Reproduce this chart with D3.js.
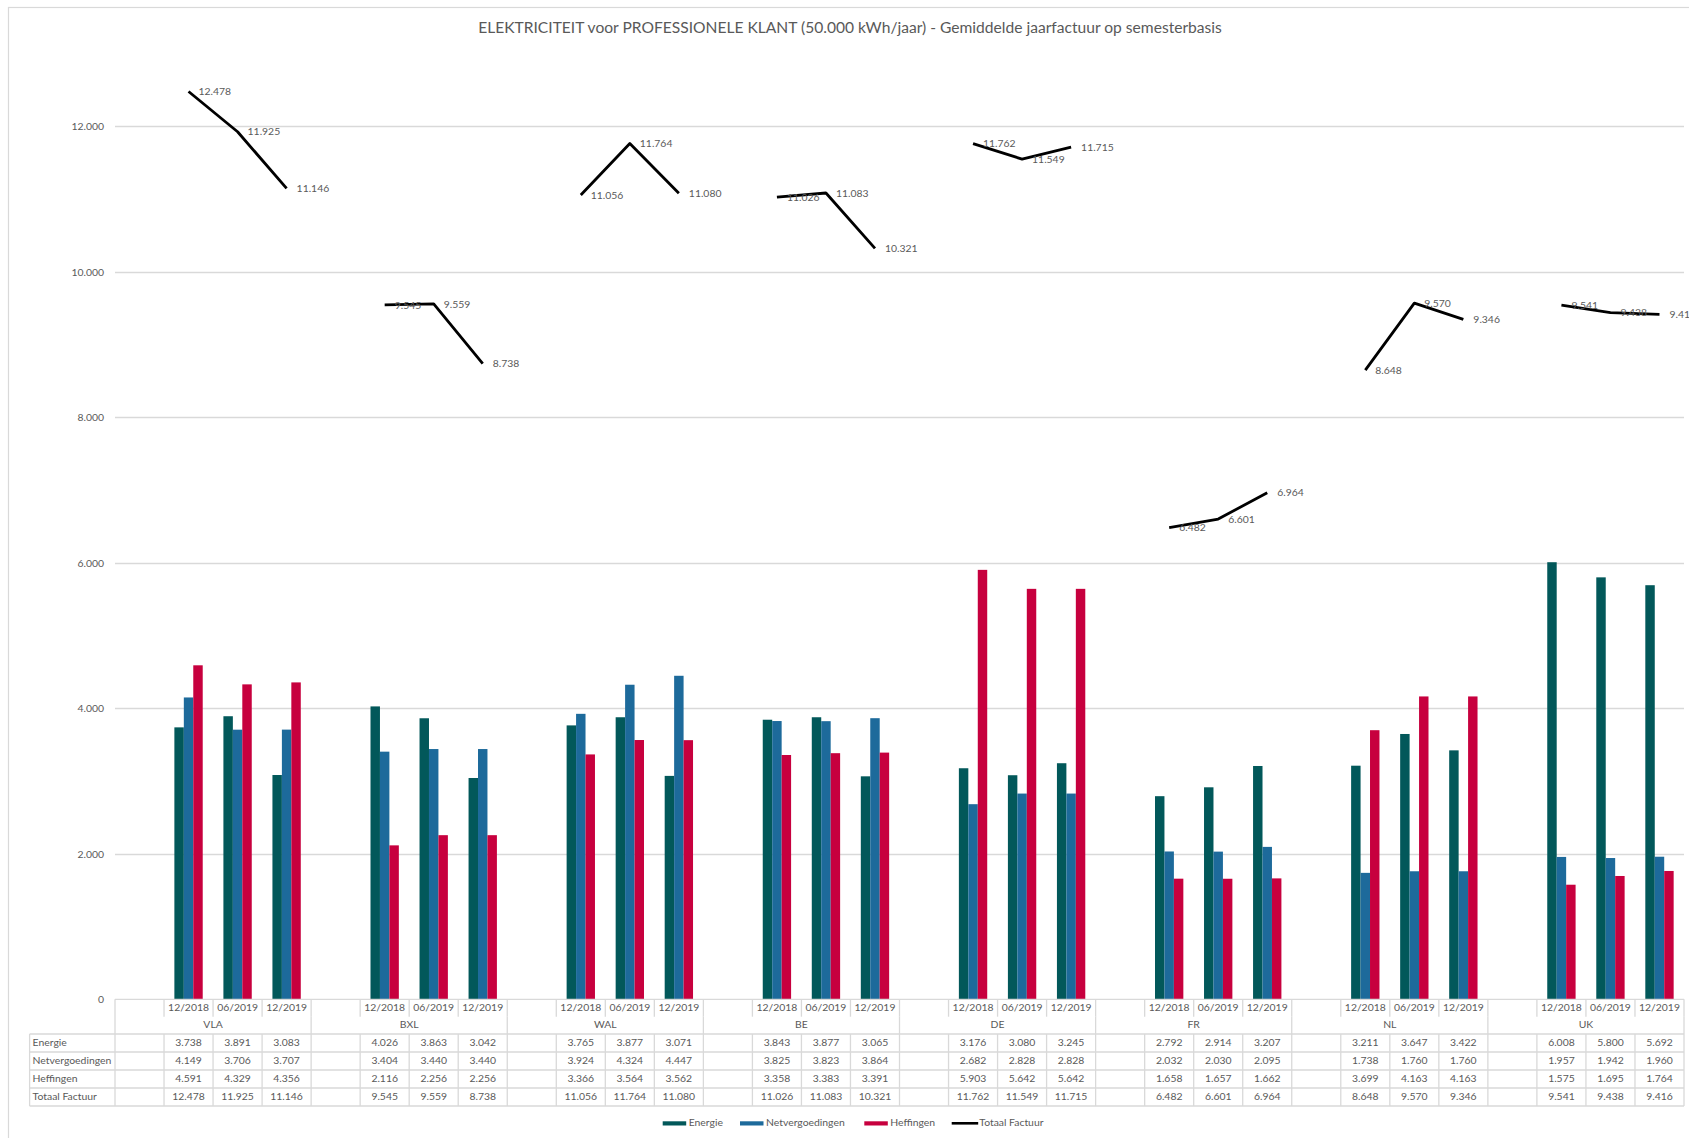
<!DOCTYPE html>
<html>
<head>
<meta charset="utf-8">
<script src="https://cdn.jsdelivr.net/npm/d3@7"></script>
<style>
  html, body { margin: 0; padding: 0; background: #ffffff; }
  svg { display: block; font-family: Lato, "Open Sans", sans-serif; }
</style>
</head>
<body>
<svg id="chart" width="1689" height="1138"></svg>
<script>
// Regions and invoice periods
const regions = ["VLA", "BXL", "WAL", "BE", "DE", "FR", "NL", "UK"];
const periods = ["12/2018", "06/2019", "12/2019"];

// Average yearly invoice components (EUR), per region, per period
const energie = [3738, 3891, 3083, 4026, 3863, 3042, 3765, 3877, 3071, 3843, 3877, 3065,
                 3176, 3080, 3245, 2792, 2914, 3207, 3211, 3647, 3422, 6008, 5800, 5692];
const netvergoedingen = [4149, 3706, 3707, 3404, 3440, 3440, 3924, 4324, 4447, 3825, 3823, 3864,
                         2682, 2828, 2828, 2032, 2030, 2095, 1738, 1760, 1760, 1957, 1942, 1960];
const heffingen = [4591, 4329, 4356, 2116, 2256, 2256, 3366, 3564, 3562, 3358, 3383, 3391,
                   5903, 5642, 5642, 1658, 1657, 1662, 3699, 4163, 4163, 1575, 1695, 1764];
const totaalFactuur = [12478, 11925, 11146, 9545, 9559, 8738, 11056, 11764, 11080, 11026, 11083, 10321,
                       11762, 11549, 11715, 6482, 6601, 6964, 8648, 9570, 9346, 9541, 9438, 9416];

const barSeries = [
  { name: "Energie", values: energie, color: "#02585a" },
  { name: "Netvergoedingen", values: netvergoedingen, color: "#1d6a9b" },
  { name: "Heffingen", values: heffingen, color: "#c7003e" }
];
const lineSeries = { name: "Totaal Factuur", values: totaalFactuur, color: "#000000" };

const yTicks = [0, 2000, 4000, 6000, 8000, 10000, 12000];
const title = "ELEKTRICITEIT voor PROFESSIONELE KLANT (50.000 kWh/jaar) - Gemiddelde jaarfactuur op semesterbasis";

// Belgian number format: dot as thousands separator
const nl = d3.formatLocale({ decimal: ",", thousands: ".", grouping: [3], currency: ["€", ""] });
const fmt = nl.format(",d");

const svg = d3.select("#chart");
const W = 1689, H = 1138;
const textColor = "#595959";
const gridColor = "#d9d9d9";
const fs = 10.4;

svg.append("rect").attr("width", W).attr("height", H).attr("fill", "#fff");
// chart frame (only the left and top edges fall inside the page)
svg.append("rect").attr("x", 8.5).attr("y", 7.5).attr("width", W + 20).attr("height", H + 20)
  .attr("fill", "none").attr("stroke", gridColor).attr("stroke-width", 1.2);

svg.append("text").attr("x", 850).attr("y", 29).attr("text-anchor", "middle")
  .attr("dominant-baseline", "middle").attr("fill", textColor).attr("font-size", 15.6)
  .text(title);

// Category slots: every region gets an empty leading slot followed by the three periods
const slots = [];
regions.forEach((r, ri) => {
  slots.push({ key: r + "|gap", region: r, label: "", idx: -1 });
  periods.forEach((p, pi) => slots.push({ key: r + "|" + p, region: r, label: p, idx: ri * 3 + pi }));
});

const plotLeft = 115, plotRight = 1684;
const x = d3.scaleBand().domain(slots.map(d => d.key)).range([plotLeft, plotRight]).padding(0);
const y = d3.scaleLinear().domain([0, 13000]).range([999.3, 999.3 - 13000 * 0.07275]);

// gridlines
svg.append("g").selectAll("line").data(yTicks.filter(t => t > 0)).join("line")
  .attr("x1", plotLeft).attr("x2", plotRight)
  .attr("y1", d => Math.round(y(d)) + 0.5).attr("y2", d => Math.round(y(d)) + 0.5)
  .attr("stroke", gridColor).attr("stroke-width", 1.3);

// y axis labels
const yAxis = svg.append("g").attr("transform", `translate(${plotLeft},0)`)
  .call(d3.axisLeft(y).tickValues(yTicks).tickSize(0).tickPadding(11).tickFormat(fmt));
yAxis.select(".domain").remove();
yAxis.selectAll("text").attr("fill", textColor).attr("font-size", fs).attr("font-family", "Lato, sans-serif");

// clustered bars
const dataSlots = slots.filter(s => s.idx >= 0);
const groupW = x.bandwidth() * 0.578;
const xs = d3.scaleBand().domain(barSeries.map(s => s.name)).range([0, groupW]).padding(0);

const barG = svg.append("g");
barSeries.forEach(s => {
  barG.append("g").selectAll("rect").data(dataSlots).join("rect")
    .attr("x", d => x(d.key) + (x.bandwidth() - groupW) / 2 + xs(s.name))
    .attr("width", xs.bandwidth())
    .attr("y", d => y(s.values[d.idx]))
    .attr("height", d => y(0) - y(s.values[d.idx]))
    .attr("fill", s.color);
});

// total invoice lines, one segment per region
const line = d3.line().x(d => x(d.key) + x.bandwidth() / 2).y(d => y(lineSeries.values[d.idx]));
regions.forEach(r => {
  const pts = dataSlots.filter(d => d.region === r);
  svg.append("path").datum(pts).attr("d", line)
    .attr("fill", "none").attr("stroke", lineSeries.color).attr("stroke-width", 2.8)
    .attr("stroke-linejoin", "round").attr("stroke-linecap", "butt");
});
svg.append("g").selectAll("text").data(dataSlots).join("text")
  .attr("x", d => x(d.key) + x.bandwidth() / 2 + 10)
  .attr("y", d => y(lineSeries.values[d.idx]) + 1)
  .attr("dominant-baseline", "middle").attr("fill", textColor).attr("font-size", fs)
  .text(d => fmt(lineSeries.values[d.idx]));

// data table under the plot
const tbl = svg.append("g");
const rowTop = [999.3, 1016.7, 1034, 1052, 1070, 1088, 1106];
const tableLeft = 29.6;
const rows = [
  { name: "Energie", values: energie },
  { name: "Netvergoedingen", values: netvergoedingen },
  { name: "Heffingen", values: heffingen },
  { name: "Totaal Factuur", values: totaalFactuur }
];
const hl = (x1, x2, yy) => tbl.append("line").attr("x1", x1).attr("x2", x2).attr("y1", yy).attr("y2", yy)
  .attr("stroke", gridColor).attr("stroke-width", 1.3);
const vl = (xx, y1, y2) => tbl.append("line").attr("x1", xx).attr("x2", xx).attr("y1", y1).attr("y2", y2)
  .attr("stroke", gridColor).attr("stroke-width", 1.3);

hl(plotLeft, plotRight, rowTop[0]);
for (let i = 2; i < rowTop.length; i++) hl(tableLeft, plotRight, rowTop[i]);
vl(tableLeft, rowTop[2], rowTop[6]);
vl(plotLeft, rowTop[0], rowTop[6]);
slots.forEach((s, i) => {
  const xr = x(s.key) + x.bandwidth();
  vl(xr, rowTop[0], rowTop[1]);
  vl(xr, rowTop[2], rowTop[6]);
});
regions.forEach(r => {
  const xr = x(r + "|" + periods[2]) + x.bandwidth();
  vl(xr, rowTop[1], rowTop[2]);
});

// period labels
tbl.selectAll("text.period").data(dataSlots).join("text").attr("class", "period")
  .attr("x", d => x(d.key) + x.bandwidth() / 2).attr("y", (rowTop[0] + rowTop[1]) / 2 + 0.5)
  .attr("text-anchor", "middle").attr("dominant-baseline", "middle")
  .attr("fill", textColor).attr("font-size", fs).text(d => d.label);
// region labels
tbl.selectAll("text.region").data(regions).join("text").attr("class", "region")
  .attr("x", r => (x(r + "|gap") + x(r + "|" + periods[2]) + x.bandwidth()) / 2)
  .attr("y", (rowTop[1] + rowTop[2]) / 2 + 0.5)
  .attr("text-anchor", "middle").attr("dominant-baseline", "middle")
  .attr("fill", textColor).attr("font-size", fs).text(r => r);
// rows
rows.forEach((row, ri) => {
  const cy = (rowTop[ri + 2] + rowTop[ri + 3]) / 2 + 0.5;
  tbl.append("text").attr("x", tableLeft + 3).attr("y", cy).attr("dominant-baseline", "middle")
    .attr("fill", textColor).attr("font-size", fs).text(row.name);
  tbl.append("g").selectAll("text").data(dataSlots).join("text")
    .attr("x", d => x(d.key) + x.bandwidth() / 2).attr("y", cy)
    .attr("text-anchor", "middle").attr("dominant-baseline", "middle")
    .attr("fill", textColor).attr("font-size", fs).text(d => fmt(row.values[d.idx]));
});

// legend
const legendItems = [
  { name: "Energie", color: barSeries[0].color, type: "bar", x: 662.7 },
  { name: "Netvergoedingen", color: barSeries[1].color, type: "bar", x: 740 },
  { name: "Heffingen", color: barSeries[2].color, type: "bar", x: 864.3 },
  { name: "Totaal Factuur", color: lineSeries.color, type: "line", x: 951.7 }
];
const legY = 1123.3;
const lg = svg.append("g").selectAll("g").data(legendItems).join("g")
  .attr("transform", d => `translate(${d.x},${legY})`);
lg.filter(d => d.type === "bar").append("rect").attr("x", 0).attr("y", -2).attr("width", 23.5).attr("height", 4.2)
  .attr("fill", d => d.color);
lg.filter(d => d.type === "line").append("line").attr("x1", 0).attr("x2", 26.5).attr("y1", 0).attr("y2", 0)
  .attr("stroke", d => d.color).attr("stroke-width", 2.6);
lg.append("text").attr("x", d => d.type === "line" ? 27.6 : 26).attr("y", 0.5)
  .attr("dominant-baseline", "middle").attr("fill", textColor).attr("font-size", fs)
  .text(d => d.name);
</script>
</body>
</html>
